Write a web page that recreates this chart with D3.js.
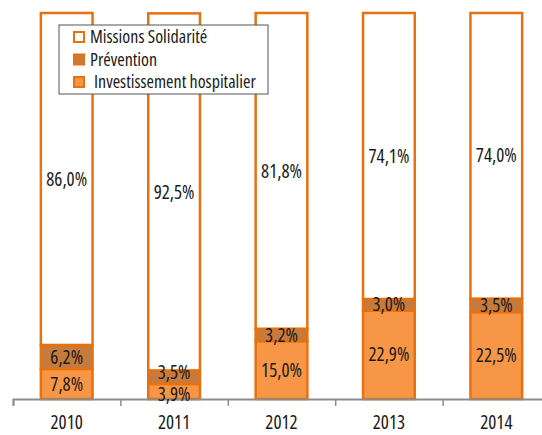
<!DOCTYPE html>
<html lang="fr">
<head>
<meta charset="utf-8">
<script src="https://cdn.jsdelivr.net/npm/d3@7"></script>
<style>
  body { margin: 0; background: #fff; }
  text { font-family: "Open Sans", sans-serif; font-stretch: 75%; fill: #1a1a1a; }
</style>
</head>
<body>
<script>
// data
var years = ["2010", "2011", "2012", "2013", "2014"];
var investissement = [7.8, 3.9, 15.0, 22.9, 22.5];
var prevention = [6.2, 3.5, 3.2, 3.0, 3.5];
var missions = [86.0, 92.5, 81.8, 74.1, 74.0];
var seriesNames = ["Missions Solidarité", "Prévention", "Investissement hospitalier"];

var W = 542, H = 435;
var colors = {
  "Missions Solidarité": "#ffffff",
  "Prévention": "#c67a3e",
  "Investissement hospitalier": "#f79646"
};
var strokeCol = "#e8710f";

var svg = d3.select("body").append("svg")
  .attr("width", W).attr("height", H);

var x = d3.scaleBand().domain(years).range([13, 550])
  .paddingInner(0.5).paddingOuter(0.25);
var y = d3.scaleLinear().domain([0, 100]).range([399, 13]);

// stack bottom -> top
var rows = years.map(function(yr, i) {
  return {year: yr, "Investissement hospitalier": investissement[i],
          "Prévention": prevention[i], "Missions Solidarité": missions[i]};
});
var stack = d3.stack().keys(["Investissement hospitalier", "Prévention", "Missions Solidarité"]);
var layers = stack(rows);

var fmt = function(v) { return v.toFixed(1).replace(".", ",") + "%"; };

var g = svg.selectAll(".layer").data(layers).enter().append("g")
  .attr("class", "layer");

g.selectAll("rect").data(function(d) { return d.map(function(p) { return {key: d.key, p: p}; }); })
  .enter().append("rect")
  .attr("x", function(d) { return x(d.p.data.year) + 1; })
  .attr("width", x.bandwidth() - 2)
  .attr("y", function(d) { return y(d.p[1]); })
  .attr("height", function(d) { return y(d.p[0]) - y(d.p[1]); })
  .style("fill", function(d) { return colors[d.key]; })
  .style("stroke", strokeCol)
  .style("stroke-width", 2.5);

// axis
var edges = d3.scaleLinear().domain([0, 5]).range([13, 550]);
svg.append("g")
  .attr("transform", "translate(0,399)")
  .call(d3.axisBottom(edges).ticks(5).tickSize(7).tickFormat(""))
  .call(function(a) {
    a.select(".domain").attr("stroke", "#8c8c8c").attr("stroke-width", 2);
    a.selectAll(".tick line").attr("stroke", "#8c8c8c").attr("stroke-width", 1.5);
  });
svg.append("g")
  .attr("transform", "translate(0,399)")
  .call(d3.axisBottom(x).tickSize(0).tickPadding(17))
  .call(function(a) {
    a.select(".domain").remove();
    a.selectAll("text").style("font-size", "19px").style("fill", "#1a1a1a");
  });
svg.selectAll(".tick text").attr("font-family", null);

// value labels, on top of every rect
// (small 2011 segments are pushed apart a bit, as in the original)
var labels = svg.append("g");
layers.forEach(function(layer) {
  labels.selectAll(null).data(layer)
    .enter().append("text")
    .attr("x", function(d) { return x(d.data.year) + x.bandwidth() / 2; })
    .attr("y", function(d) {
      var c = (y(d[0]) + y(d[1])) / 2;
      if (d.data.year == "2011" && d[0] == 0) c += 3;
      if (d.data.year == "2011" && d[0] > 0 && d[1] < 10) c -= 5;
      return c;
    })
    .attr("dy", "0.35em")
    .attr("text-anchor", "middle")
    .style("font-size", "19px")
    .text(function(d) { return fmt(d[1] - d[0]); });
});

// legend
var lg = svg.append("g").attr("transform", "translate(59,25)");
lg.append("rect").attr("width", 209).attr("height", 69)
  .style("fill", "#fff").style("stroke", "#555").style("stroke-width", 1);
var item = lg.selectAll(".item").data(seriesNames).enter().append("g")
  .attr("transform", function(d, i) { return "translate(0," + (12 + i * 22.5) + ")"; });
item.append("rect")
  .attr("x", 15).attr("y", -5).attr("width", 10).attr("height", 10)
  .style("fill", function(d) { return colors[d]; })
  .style("stroke", strokeCol).style("stroke-width", 2);
item.append("text")
  .attr("x", function(d, i) { return i == 2 ? 35 : 31; })
  .attr("dy", "0.35em")
  .style("font-size", "18px")
  .text(function(d) { return d; });
</script>
</body>
</html>
